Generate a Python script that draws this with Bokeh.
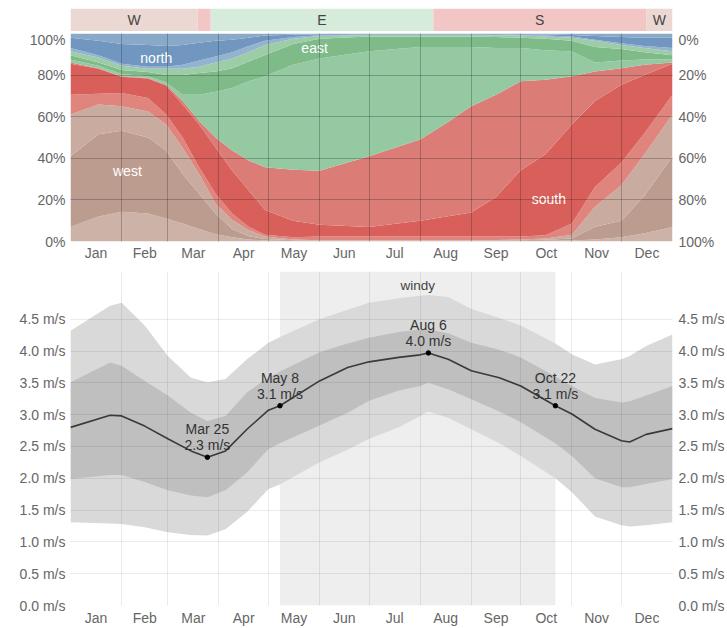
import numpy as np
from bokeh.plotting import figure
from bokeh.models import ColumnDataSource, FixedTicker, Range1d, BoxAnnotation, LinearAxis
from bokeh.layouts import column
from bokeh.embed import file_html
from bokeh.resources import INLINE
from bokeh.core.properties import value

# ---------------- data ----------------
months = ["Jan", "Feb", "Mar", "Apr", "May", "Jun", "Jul", "Aug", "Sep", "Oct", "Nov", "Dec"]
month_starts = [0, 31, 59, 90, 120, 151, 181, 212, 243, 273, 304, 334, 365]

pct_ticks = [0, 20, 40, 60, 80, 100]
speed_ticks = [0.0, 0.5, 1.0, 1.5, 2.0, 2.5, 3.0, 3.5, 4.0, 4.5]

# dominant direction strip
band_start = [0, 77, 85, 220, 349]
band_end = [77, 85, 220, 349, 365]
band_dir = ["W", "S", "E", "S", "W"]
band_text = ["W", "", "E", "S", "W"]

# wind direction: cumulative tops (%) of each stacked sub-layer
dir_days = [0, 17, 31, 47, 58, 68, 78, 88, 98, 108, 118, 135, 151, 181, 212, 228, 243, 258, 273, 288, 304, 318, 334, 348, 365]
west_lo_top = [7, 12, 14.3, 13.5, 11, 8.7, 6, 3.5, 2, 1, 0.5, 0.3, 0.2, 0.2, 0.2, 0.2, 0.2, 0.2, 0.3, 0.4, 0.5, 1, 2, 4, 7]
west_core_top = [41, 51.6, 53.2, 50, 43.7, 32.5, 23, 13.5, 6, 2.5, 1.2, 0.6, 0.4, 0.4, 0.4, 0.4, 0.4, 0.4, 0.6, 0.8, 1.5, 7.1, 10, 22, 41]
west_hi_top = [61, 65.9, 65, 62.5, 56.2, 45, 32.5, 18.2, 10.3, 5.5, 2.4, 1.0, 0.6, 0.6, 0.6, 0.6, 0.6, 0.7, 1.0, 1.5, 3.2, 16.7, 27, 42, 61]
south_lo_top = [70.6, 71, 71.4, 69, 61.1, 50, 35.7, 23, 13.5, 7.1, 3.2, 2.0, 2.4, 2.4, 2.4, 2.4, 2.4, 2.4, 2.4, 3, 8.7, 26.2, 38, 52, 70.6]
south_core_top = [85.5, 83, 79.2, 78.4, 75, 65.9, 56.3, 45.2, 34.1, 24.6, 15.1, 10, 8, 7, 10, 12, 14, 21.4, 34.3, 42, 56.3, 67.6, 75.4, 80, 85.5]
south_hi_top = [86, 83.3, 79.4, 78.6, 75.4, 67.5, 57.9, 50, 43.7, 39, 35.7, 34.5, 34, 41, 49, 57, 65, 70.6, 77, 77.8, 79.4, 81.7, 83.3, 85, 86]
east_lo_top = [87.5, 84.5, 80.5, 79.5, 76.5, 70.6, 70.6, 72, 73.8, 77, 79.4, 85, 88, 91.5, 93.5, 93.5, 93.5, 93, 93, 92, 91.3, 86, 87, 87.5, 87.5]
east_core_top = [89.5, 86, 82.5, 81.5, 80, 80, 81, 81.7, 83.3, 86.5, 89.7, 95, 97.5, 98.5, 98.5, 98.5, 98.5, 98.3, 98, 97.5, 96.5, 93.5, 92.5, 91, 89.5]
east_hi_top = [91.5, 88.5, 84.5, 83, 83, 83, 84, 86, 88, 91, 94.5, 97.5, 98.8, 99.3, 99.3, 99.3, 99.3, 99.2, 99, 98.6, 98, 96.5, 94.5, 93, 91.5]
north_lo_top = [93, 89.5, 85.5, 84, 84, 85, 87, 89, 91, 94, 96.5, 98.3, 99.1, 99.5, 99.5, 99.5, 99.5, 99.4, 99.3, 99, 98.5, 97, 95.3, 94, 93]
north_core_top = [98, 96.5, 95, 94.5, 94, 94.5, 95.5, 96.5, 97, 98, 99, 99.4, 99.6, 99.8, 99.8, 99.8, 99.8, 99.7, 99.6, 99.5, 99.3, 98.8, 98.3, 98, 98]
north_hi_top = [100] * len(dir_days)

dir_labels = ["north", "east", "west", "south"]

# wind speed (m/s)
speed_days = [0, 24, 31, 45, 59, 73, 83, 94, 107, 120, 127, 151, 168, 181, 199, 212, 217, 229, 243, 260, 273, 294, 304, 318, 334, 339, 349, 365]
speed_mean = [2.80, 2.99, 2.98, 2.82, 2.62, 2.43, 2.33, 2.43, 2.77, 3.07, 3.14, 3.53, 3.74, 3.83, 3.90, 3.94, 3.97, 3.87, 3.69, 3.58, 3.45, 3.14, 3.01, 2.77, 2.59, 2.57, 2.69, 2.78]
speed_p90 = [4.32, 4.71, 4.76, 4.40, 3.92, 3.58, 3.51, 3.56, 3.87, 4.13, 4.22, 4.50, 4.65, 4.76, 4.83, 4.87, 4.88, 4.85, 4.66, 4.52, 4.40, 4.12, 3.95, 3.79, 3.87, 3.92, 4.08, 4.26]
speed_p75 = [3.51, 3.82, 3.77, 3.53, 3.30, 3.03, 2.90, 2.98, 3.35, 3.58, 3.68, 3.98, 4.12, 4.21, 4.30, 4.34, 4.34, 4.28, 4.13, 4.02, 3.90, 3.60, 3.45, 3.26, 3.19, 3.21, 3.30, 3.45]
speed_p25 = [1.99, 2.05, 2.05, 1.94, 1.81, 1.73, 1.70, 1.81, 2.09, 2.46, 2.55, 2.83, 3.03, 3.22, 3.38, 3.45, 3.50, 3.40, 3.24, 3.05, 2.88, 2.55, 2.35, 2.00, 1.86, 1.86, 1.91, 1.99]
speed_p10 = [1.31, 1.29, 1.28, 1.23, 1.15, 1.11, 1.10, 1.20, 1.47, 1.83, 1.90, 2.25, 2.45, 2.62, 2.80, 2.98, 3.05, 2.95, 2.77, 2.55, 2.35, 2.00, 1.78, 1.40, 1.26, 1.24, 1.26, 1.31]

ann_days = [83, 127, 217, 294]
ann_names = ["Mar 25", "May 8", "Aug 6", "Oct 22"]
windy_start, windy_end = 127, 294

# ---------------- styling ----------------
FONT = "Liberation Sans"
LBL = "#666666"
FS = "14px"
W = 727
ML, MR = 70, 54

layer_cols = ["wlo", "wcore", "whi", "slo", "score", "shi", "elo", "ecore", "ehi", "nlo", "ncore", "nhi"]
layer_colors = ["#cdb2a8", "#bd9c90", "#c9ab9f", "#e0857e", "#d85f5a", "#dc7c76",
                "#95c9a1", "#7ebb89", "#9ccda7", "#93b3cf", "#7197c0", "#89a9c9"]
band_colors_map = {"W": "#ecd8d2", "S": "#f3c6c6", "E": "#d6ebd9"}

mid_months = [(month_starts[i] + month_starts[i + 1]) / 2 for i in range(12)]


def style_axis(ax, ticks, overrides, standoff=4):
    ax.ticker = FixedTicker(ticks=ticks)
    ax.major_label_overrides = overrides
    ax.axis_line_color = None
    ax.major_tick_line_color = None
    ax.minor_tick_line_color = None
    ax.major_tick_out = 0
    ax.major_tick_in = 0
    ax.major_label_text_font = FONT
    ax.major_label_text_font_size = FS
    ax.major_label_text_color = LBL
    ax.major_label_standoff = standoff


xr = Range1d(0, 365)
month_over = {m: n for m, n in zip(mid_months, months)}

# ---- direction strip ----
band = figure(width=W, height=31, x_range=xr, y_range=Range1d(0, 1), x_axis_type=None, y_axis_type=None,
              output_backend="svg", toolbar_location=None, min_border_left=ML, min_border_right=MR,
              min_border_top=8, min_border_bottom=0, outline_line_color=None)
band.quad(left=band_start, right=band_end, bottom=0, top=1,
          fill_color=[band_colors_map[d] for d in band_dir], line_color=None)
band.text(x=[(a + b) / 2 for a, b in zip(band_start, band_end)], y=[0.5] * len(band_start), text=band_text,
          text_align="center", text_baseline="middle", text_font=value(FONT), text_font_size="14px",
          text_color="#444444")

# ---- wind direction ----
edges = np.vstack([west_lo_top, west_core_top, west_hi_top, south_lo_top, south_core_top, south_hi_top,
                   east_lo_top, east_core_top, east_hi_top, north_lo_top, north_core_top, north_hi_top]).astype(float)
shares = np.diff(np.vstack([np.zeros(len(dir_days)), edges]), axis=0)
dsrc = ColumnDataSource({"x": dir_days, **{c: shares[i] for i, c in enumerate(layer_cols)}})

top = figure(width=W, height=232, x_range=xr, y_range=Range1d(0, 100), output_backend="svg",
             toolbar_location=None, min_border_left=ML, min_border_right=MR, min_border_top=2,
             min_border_bottom=20, outline_line_color=None)
top.varea_stack(stackers=layer_cols, x="x", color=layer_colors, source=dsrc)
top.add_layout(LinearAxis(), "right")
style_axis(top.xaxis[0], mid_months, month_over, 3)
style_axis(top.yaxis[0], pct_ticks, {t: f"{t}%" for t in pct_ticks}, 5)
style_axis(top.yaxis[1], pct_ticks, {t: f"{100 - t}%" for t in pct_ticks}, 6)
top.xgrid.ticker = FixedTicker(ticks=month_starts)
top.ygrid.ticker = FixedTicker(ticks=pct_ticks)
for g in (top.xgrid, top.ygrid):
    g.grid_line_color = "#222222"
    g.grid_line_alpha = 0.28
    g.level = "guide"
top.text(x=[52, 148, 34.5, 290], y=[88, 93, 34, 20.5], text=dir_labels, text_color="white",
         text_align="center", text_baseline="middle", text_font=value(FONT), text_font_size="14px")

# ---- wind speed ----
ssrc = ColumnDataSource({"x": speed_days, "mean": speed_mean, "p10": speed_p10, "p25": speed_p25,
                         "p75": speed_p75, "p90": speed_p90})
ymax = 5.25
bot = figure(width=W, height=365, x_range=xr, y_range=Range1d(0, ymax), output_backend="svg",
             toolbar_location=None, min_border_left=ML, min_border_right=MR, min_border_top=8,
             min_border_bottom=22, outline_line_color=None)
bot.add_layout(BoxAnnotation(left=windy_start, right=windy_end, fill_color="#eeeeee", fill_alpha=1.0,
                             line_color=None, level="underlay"))
bot.varea(x="x", y1="p10", y2="p90", source=ssrc, fill_color="#d9d9d9")
bot.varea(x="x", y1="p25", y2="p75", source=ssrc, fill_color="#bfbfbf")
bot.line(x="x", y="mean", source=ssrc, line_color="#3a3a3a", line_width=1.6)

ann_vals = [speed_mean[speed_days.index(d)] for d in ann_days]
bot.scatter(x=ann_days, y=ann_vals, size=4.5, fill_color="black", line_color="black")
bot.text(x=ann_days, y=ann_vals, text=ann_names, text_align="center", text_baseline="middle",
         y_offset=-28, text_font=value(FONT), text_font_size="14px", text_color="#333333")
bot.text(x=ann_days, y=ann_vals, text=[f"{v:.1f} m/s" for v in ann_vals], text_align="center",
         text_baseline="middle", y_offset=-12, text_font=value(FONT), text_font_size="14px",
         text_color="#333333")
bot.text(x=[(windy_start + windy_end) / 2], y=[ymax], text=["windy"], text_align="center",
         text_baseline="top", y_offset=6, text_font=value(FONT), text_font_size="13.5px", text_color="#444444")

bot.add_layout(LinearAxis(), "right")
style_axis(bot.xaxis[0], mid_months, month_over, 4)
style_axis(bot.yaxis[0], speed_ticks, {t: f"{t:.1f} m/s" for t in speed_ticks}, 5)
style_axis(bot.yaxis[1], speed_ticks, {t: f"{t:.1f} m/s" for t in speed_ticks}, 6)
bot.xgrid.ticker = FixedTicker(ticks=month_starts)
bot.ygrid.ticker = FixedTicker(ticks=speed_ticks)
for g in (bot.xgrid, bot.ygrid):
    g.grid_line_color = "#000000"
    g.grid_line_alpha = 0.08
    g.level = "guide"

layout = column(band, top, bot, spacing=0)
open("out.html", "w").write(file_html(layout, INLINE))
